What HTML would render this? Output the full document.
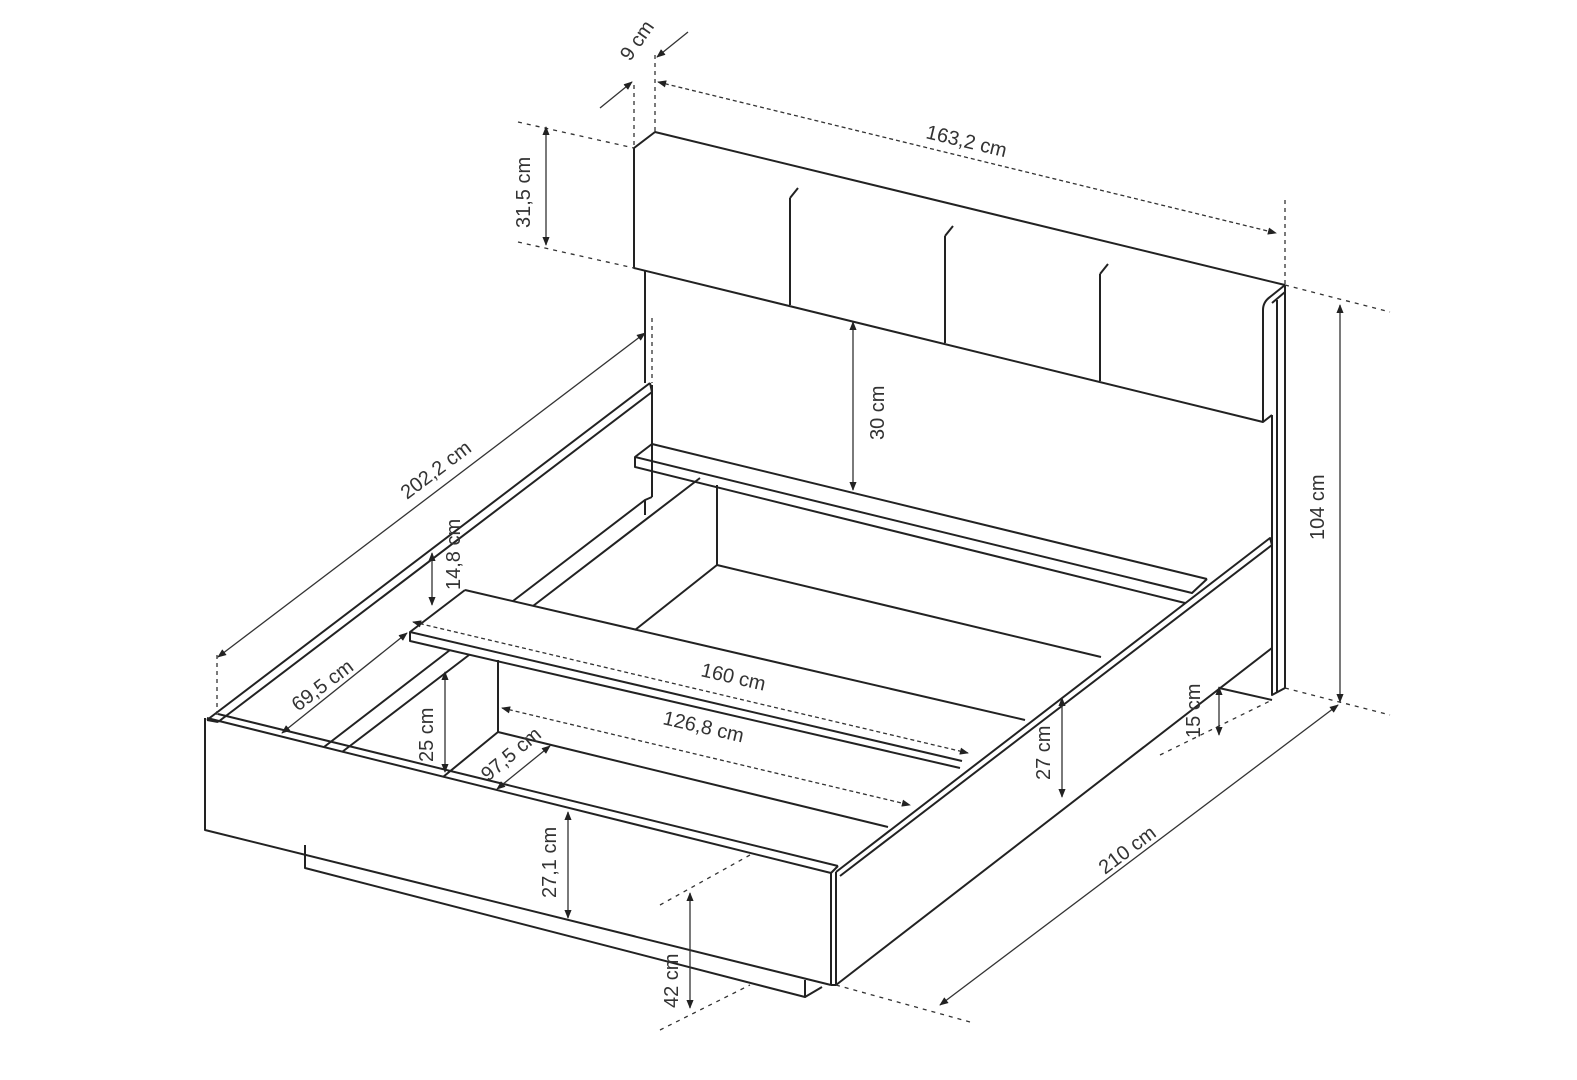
<!DOCTYPE html>
<html><head><meta charset="utf-8"><style>
html,body{margin:0;padding:0;background:#fff}
svg{display:block}
text{font-family:"Liberation Sans",sans-serif;font-size:20px;fill:#333}
</style></head><body>
<svg width="1577" height="1080" viewBox="0 0 1577 1080" xmlns="http://www.w3.org/2000/svg">
<defs>
<marker id="a" viewBox="0 0 10 10" refX="9" refY="5" markerWidth="9" markerHeight="9" orient="auto-start-reverse" markerUnits="userSpaceOnUse"><path d="M0,1 L10,5 L0,9 Z" fill="#222"/></marker>
</defs>
<g fill="none" stroke="#222" stroke-width="2" stroke-linejoin="round">
<!-- headboard upholstery -->
<path d="M634,148 L655,132 L1285,285"/>
<path d="M634,148 L634,268 L1263,422"/>
<path d="M1285,285 L1270,297 Q1263,302 1263,310 L1263,422 L1272,415"/>
<path d="M790,198 L798,188 M790,198 L790,305"/>
<path d="M945,236 L953,226 M945,236 L945,343"/>
<path d="M1100,274 L1108,264 M1100,274 L1100,381"/>
<!-- backboard -->
<path d="M1285,285 L1285,688 L1272,695 L1272,415"/>
<path d="M1277,300 L1277,692"/>
<path d="M1272,303 L1285,292"/>
<path d="M645,270 L645,383"/>
<path d="M652,385 L652,497"/>
<!-- headboard shelf -->
<path d="M652,444 L1207,579"/>
<path d="M652,444 L635,457 L635,467 L1185,603"/>
<path d="M635,457 L1192,593 L1207,579"/>
<path d="M717,485 L717,565 L1101,657"/>
<path d="M717,565 L635,630"/>
<!-- left rail -->
<path d="M207,720 L650,383"/>
<path d="M218,722 L652,392"/>
<path d="M650,383 L652,392"/>
<path d="M324,747 L450,650 M513,601 L645,500 L652,497"/>
<path d="M342,752 L469,655 M533,606 L700,478"/>
<path d="M645,500 L645,515"/>
<!-- middle slat -->
<path d="M465,590 L1025,720"/>
<path d="M465,590 L410,632 L410,641 L960,768"/>
<path d="M410,632 L962,761"/>
<path d="M498,660 L498,732 L888,827"/>
<path d="M498,732 L443,777"/>
<!-- footboard -->
<path d="M207,718 L831,873"/>
<path d="M205,718 L205,830 L831,985"/>
<path d="M207,720 L218,722"/>
<path d="M218,714 L838,866"/>
<path d="M831,873 L831,985 M836,872 L836,985 L831,985"/>
<path d="M831,873 L838,866"/>
<path d="M305,845 L305,868 L805,997 L805,980"/>
<path d="M805,997 L822,987"/>
<!-- right rail -->
<path d="M836,872 L1270,538 L1272,545"/>
<path d="M840,876 L1272,545"/>
<path d="M836,985 L1272,648"/>
<path d="M1219,688 L1272,700"/>
</g>
<!-- dimension lines -->
<g fill="none" stroke="#333" stroke-width="1.3">
<path d="M634,85 L634,148 M655,55 L655,132" stroke-dasharray="4,4"/>
<path d="M600,108 L632,82" marker-end="url(#a)"/>
<path d="M688,32 L657,57" marker-end="url(#a)"/>
<path d="M658,82 L1276,233" stroke-dasharray="4,3" marker-start="url(#a)" marker-end="url(#a)"/>
<path d="M1285,200 L1285,285" stroke-dasharray="4,4"/>
<path d="M518,122 L634,148 M518,242 L634,268" stroke-dasharray="4,5"/>
<path d="M546,127 L546,245" marker-start="url(#a)" marker-end="url(#a)"/>
<path d="M853,322 L853,490" marker-start="url(#a)" marker-end="url(#a)"/>
<path d="M1285,285 L1390,312 M1285,688 L1390,715" stroke-dasharray="4,5"/>
<path d="M1340,305 L1340,702" marker-start="url(#a)" marker-end="url(#a)"/>
<path d="M218,657 L645,333" marker-start="url(#a)" marker-end="url(#a)"/>
<path d="M217,655 L217,718 M652,318 L652,383" stroke-dasharray="4,4"/>
<path d="M432,553 L432,605" marker-start="url(#a)" marker-end="url(#a)"/>
<path d="M282,733 L407,633" marker-start="url(#a)" marker-end="url(#a)"/>
<path d="M413,622 L968,753" stroke-dasharray="4,3" marker-start="url(#a)" marker-end="url(#a)"/>
<path d="M502,708 L910,805" stroke-dasharray="4,3" marker-start="url(#a)" marker-end="url(#a)"/>
<path d="M445,672 L445,772" marker-start="url(#a)" marker-end="url(#a)"/>
<path d="M497,789 L550,746" marker-start="url(#a)" marker-end="url(#a)"/>
<path d="M568,812 L568,918" marker-start="url(#a)" marker-end="url(#a)"/>
<path d="M690,893 L690,1008" marker-start="url(#a)" marker-end="url(#a)"/>
<path d="M660,905 L750,855 M660,1030 L750,985" stroke-dasharray="4,5"/>
<path d="M1062,698 L1062,797" marker-start="url(#a)" marker-end="url(#a)"/>
<path d="M1219,687 L1219,735" marker-start="url(#a)" marker-end="url(#a)"/>
<path d="M1160,755 L1272,700" stroke-dasharray="4,5"/>
<path d="M940,1005 L1338,705" marker-start="url(#a)" marker-end="url(#a)"/>
<path d="M836,985 L970,1022" stroke-dasharray="4,5"/>
</g>
<text transform="translate(630,62) rotate(-55)">9 cm</text>
<text transform="translate(925,138) rotate(13.5)">163,2 cm</text>
<text transform="translate(530,228) rotate(-90)">31,5 cm</text>
<text transform="translate(884,440) rotate(-90)">30 cm</text>
<text transform="translate(1324,540) rotate(-90)">104 cm</text>
<text transform="translate(407,500) rotate(-37)">202,2 cm</text>
<text transform="translate(460,590) rotate(-90)">14,8 cm</text>
<text transform="translate(298,712) rotate(-37)">69,5 cm</text>
<text transform="translate(700,676) rotate(13)">160 cm</text>
<text transform="translate(662,724) rotate(13)">126,8 cm</text>
<text transform="translate(433,762) rotate(-90)">25 cm</text>
<text transform="translate(488,782) rotate(-40)">97,5 cm</text>
<text transform="translate(556,898) rotate(-90)">27,1 cm</text>
<text transform="translate(678,1008) rotate(-90)">42 cm</text>
<text transform="translate(1050,780) rotate(-90)">27 cm</text>
<text transform="translate(1200,738) rotate(-90)">15 cm</text>
<text transform="translate(1105,875) rotate(-37)">210 cm</text>
</svg>
</body></html>
